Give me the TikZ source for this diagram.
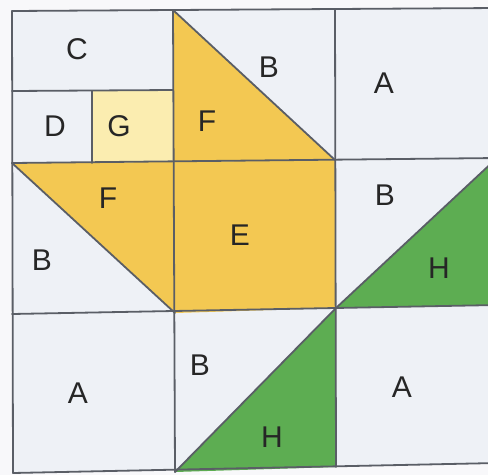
\documentclass[tikz,border=0pt]{standalone}
\usepackage{fontspec}
\setmainfont{Liberation Sans}
\definecolor{paper}{HTML}{F8F8FA}
\definecolor{cellwhite}{HTML}{EEF1F6}
\definecolor{gold}{HTML}{F3C852}
\definecolor{paleyellow}{HTML}{FBEDB0}
\definecolor{leaf}{HTML}{5DAD52}
\definecolor{seamgray}{HTML}{5A5E66}

\begin{document}
\begin{tikzpicture}[
  x=1pt, y=-1pt,
  seam/.style={draw=seamgray, line width=1.8pt, line join=round, line cap=round},
  lbl/.style={font=\fontsize{30}{36}\selectfont, text=black!85, inner sep=0pt},
]
\fill[paper] (0,0) rectangle (488,475);
\useasboundingbox (0,0) rectangle (488,475);
\clip (0,0) rectangle (488,475);

% grid corners (column, row)
\coordinate (p00) at (12,11);  \coordinate (p10) at (173,10);  \coordinate (p20) at (335,9);   \coordinate (p30) at (497,8);
\coordinate (p01) at (12,163); \coordinate (p11) at (173,162); \coordinate (p21) at (335,160); \coordinate (p31) at (497,158);
\coordinate (p02) at (12,314); \coordinate (p12) at (175,313); \coordinate (p22) at (336,308); \coordinate (p32) at (497,305);
\coordinate (p03) at (13,473); \coordinate (p13) at (175,472); \coordinate (p23) at (336,467); \coordinate (p33) at (497,463);
% top left cell split
\coordinate (cdl) at (12,91); \coordinate (cdr) at (173,90);
\coordinate (dgt) at (92,91); \coordinate (dgb) at (92,163);

% pieces
\fill[cellwhite] (p00) -- (p30) -- (p33) -- (p03) -- cycle;
\fill[paleyellow] (dgt) -- (cdr) -- (p11) -- (dgb) -- cycle;
\fill[gold] (p10) -- (p11) -- (p21) -- cycle;
\fill[gold] (p01) -- (p11) -- (p12) -- cycle;
\fill[gold] (p11) -- (p21) -- (p22) -- (p12) -- cycle;
\fill[leaf] (p22) -- (p32) -- (p31) -- cycle;
\fill[leaf] (p13) -- (p23) -- (p22) -- cycle;

% seams
\draw[seam] (p00) -- (p30) (p01) -- (p31) (p02) -- (p32) (p03) -- (p33);
\draw[seam] (p00) -- (p03) (p10) -- (p13) (p20) -- (p23);
\draw[seam] (cdl) -- (cdr) (dgt) -- (dgb);
\draw[seam] (p10) -- (p21) (p01) -- (p12) (p22) -- (p31) (p13) -- (p22);

% labels
\node[lbl] (lblC) at (77,49) {C};
\node[lbl] (lblD) at (55,126) {D};
\node[lbl] (lblG) at (119,126) {G};
\node[lbl] (lblFtop) at (207,121) {F};
\node[lbl] (lblBtop) at (269,67) {B};
\node[lbl] (lblAtop) at (384,83) {A};
\node[lbl] (lblFleft) at (108,198) {F};
\node[lbl] (lblE) at (240,235) {E};
\node[lbl] (lblBright) at (385,195) {B};
\node[lbl] (lblBleft) at (42,260) {B};
\node[lbl] (lblHright) at (439,268) {H};
\node[lbl] (lblAleft) at (78,393) {A};
\node[lbl] (lblBbottom) at (200,365) {B};
\node[lbl] (lblHbottom) at (272,437) {H};
\node[lbl] (lblAright) at (402,387) {A};
\end{tikzpicture}
\end{document}
